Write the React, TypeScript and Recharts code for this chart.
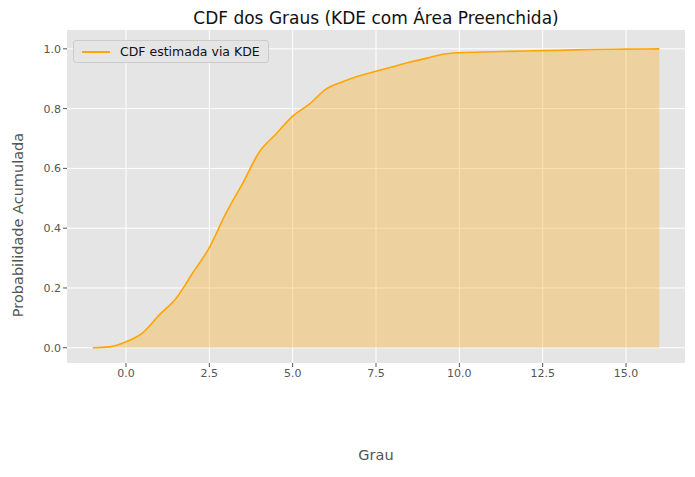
import { ComposedChart, Area, Line, XAxis, YAxis, CartesianGrid } from "recharts";

const grau = [-1, -0.5, 0, 0.5, 1, 1.5, 2, 2.5, 3, 3.5, 4, 4.5, 5, 5.5, 6, 6.5, 7, 7.5, 8, 8.5, 9, 9.5, 10, 11, 12, 13, 14, 15, 16];
const cdf = [0, 0.003, 0.02, 0.05, 0.11, 0.165, 0.25, 0.335, 0.45, 0.55, 0.655, 0.715, 0.775, 0.815, 0.865, 0.89, 0.91, 0.925, 0.94, 0.955, 0.968, 0.982, 0.987, 0.99, 0.993, 0.995, 0.998, 0.999, 1.0];
const xTicks = [0, 2.5, 5, 7.5, 10, 12.5, 15];
const yTicks = [0, 0.2, 0.4, 0.6, 0.8, 1.0];

const data = grau.map((g, i) => ({ grau: g, cdf: cdf[i] }));

export default function App() {
  const font = "DejaVu Sans";
  return (
    <div style={{ position: "absolute", left: 0, top: 0, width: 695, height: 477, background: "#fff", fontFamily: font }}>
      <ComposedChart width={695} height={477} data={data} margin={{ top: 30, right: 10, bottom: 57, left: 3 }}>
        <CartesianGrid fill="#e5e5e5" stroke="#fff" strokeWidth={1} horizontalValues={yTicks} verticalValues={xTicks} />
        <XAxis dataKey="grau" type="number" domain={[-1.77, 16.77]} ticks={xTicks} tickFormatter={(v: number) => v.toFixed(1)}
          axisLine={false} tickLine={{ stroke: "#555" }} tick={{ fill: "#555", fontSize: 11, fontFamily: font }} tickSize={4} height={57} />
        <YAxis type="number" domain={[-0.051, 1.063]} ticks={yTicks} tickFormatter={(v: number) => v.toFixed(1)} width={64}
          axisLine={false} tickLine={{ stroke: "#555" }} tick={{ fill: "#555", fontSize: 11, fontFamily: font }} tickSize={4} />
        <Area dataKey="cdf" type="monotone" baseValue={0} fill="#ffa500" fillOpacity={0.3} stroke="none" isAnimationActive={false} />
        <Line dataKey="cdf" type="monotone" stroke="#ffa500" strokeWidth={1.6} dot={false} isAnimationActive={false} />
      </ComposedChart>
      <div style={{ position: "absolute", top: 8, left: 67, width: 618, textAlign: "center", fontSize: 17, color: "#111" }}>
        CDF dos Graus (KDE com Área Preenchida)
      </div>
      <div style={{ position: "absolute", top: 447, left: 67, width: 618, textAlign: "center", fontSize: 14.5, color: "#555" }}>Grau</div>
      <div style={{ position: "absolute", left: 18, top: 225, width: 0, height: 0 }}>
        <div style={{ position: "absolute", transform: "translate(-50%,-50%) rotate(-90deg)", whiteSpace: "nowrap", fontSize: 14.5, color: "#555" }}>
          Probabilidade Acumulada
        </div>
      </div>
      <div style={{ position: "absolute", top: 40, left: 73, background: "#e5e5e5", border: "1px solid #ccc", borderRadius: 3, padding: "3px 8px", display: "flex", alignItems: "center", fontSize: 12.5, color: "#111" }}>
        <span style={{ display: "inline-block", width: 28, height: 2, background: "#ffa500", marginRight: 10 }} />
        CDF estimada via KDE
      </div>
    </div>
  );
}
